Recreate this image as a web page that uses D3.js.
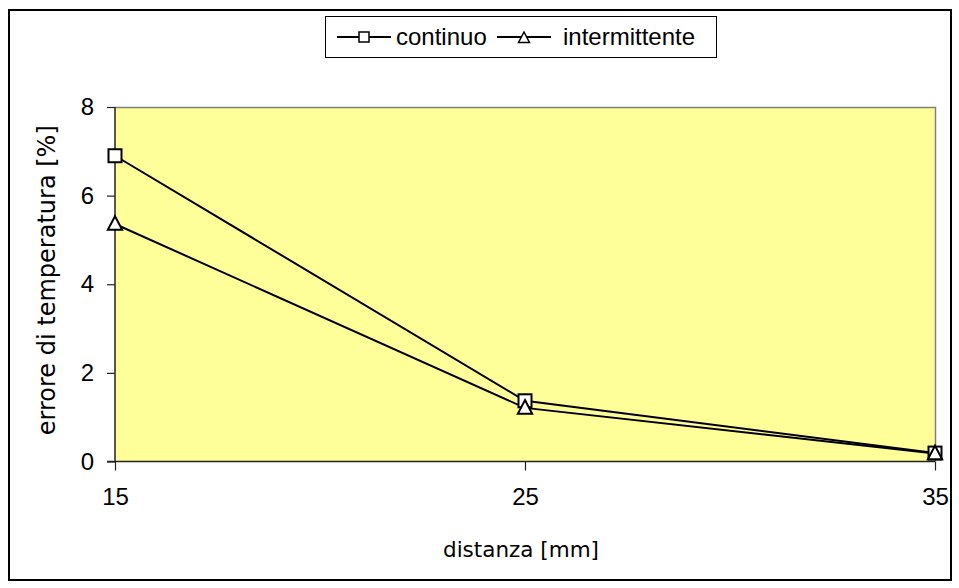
<!DOCTYPE html>
<html>
<head>
<meta charset="utf-8">
<script src="https://cdn.jsdelivr.net/npm/d3@7"></script>
<style>
  html, body { margin: 0; padding: 0; background: #fff; }
  svg { display: block; }
</style>
</head>
<body>
<svg id="chart" width="959" height="588"></svg>
<script>
// distance from the source [mm]
const distances = [15, 25, 35];
// temperature error [%] for each measuring mode
const continuo = [6.9, 1.37, 0.19];
const intermittente = [5.36, 1.21, 0.18];
const seriesNames = ["continuo", "intermittente"];
const yTicks = [0, 2, 4, 6, 8];
const xTicks = [15, 25, 35];

const svg = d3.select("#chart");
const plot = { left: 115, top: 107, right: 935, bottom: 461.5 };

// outer frame
svg.append("rect")
  .attr("x", 9).attr("y", 10).attr("width", 942).attr("height", 570)
  .attr("fill", "#fff").attr("stroke", "#000").attr("stroke-width", 2);

const x = d3.scaleLinear().domain([15, 35]).range([plot.left, plot.right]);
const y = d3.scaleLinear().domain([0, 8]).range([plot.bottom, plot.top]);

// plot background
svg.append("rect")
  .attr("x", plot.left).attr("y", plot.top)
  .attr("width", plot.right - plot.left).attr("height", plot.bottom - plot.top)
  .attr("fill", "#FFFF99");
// top and right edges of the plot area
svg.append("path")
  .attr("d", `M${plot.left},${plot.top + 0.5}H${plot.right + 0.5}V${plot.bottom}`)
  .attr("fill", "none").attr("stroke", "#808080").attr("stroke-width", 1.5);

// axes
const yAxis = d3.axisLeft(y).tickValues(yTicks).tickSize(8).tickPadding(13).tickFormat(d3.format("d"));
const gy = svg.append("g").attr("transform", `translate(${plot.left},0)`).call(yAxis);
const xAxis = d3.axisBottom(x).tickValues(xTicks).tickSize(9).tickPadding(17).tickFormat(d3.format("d"));
const gx = svg.append("g").attr("transform", `translate(0,${plot.bottom})`).call(xAxis);

[gx, gy].forEach(g => {
  g.select(".domain").attr("stroke", "#222").attr("stroke-width", 1.5);
  g.selectAll(".tick line").attr("stroke", "#222").attr("stroke-width", 1.2);
  g.selectAll(".tick text")
    .attr("fill", "#000")
    .style("font-family", "'Liberation Sans', Arial, sans-serif")
    .style("font-size", "24px");
});
gy.select(".domain").attr("d", `M0,${plot.top}V${plot.bottom}`);
gx.select(".domain").attr("d", `M${plot.left - 8},0H${plot.right}`);

// axis titles
svg.append("text")
  .attr("x", 521).attr("y", 557)
  .attr("text-anchor", "middle")
  .style("font-family", "'DejaVu Sans', Verdana, sans-serif")
  .style("font-size", "21.5px")
  .text("distanza [mm]");
svg.append("text")
  .attr("transform", `translate(55,${(plot.top + plot.bottom) / 2 - 4}) rotate(-90)`)
  .attr("text-anchor", "middle")
  .style("font-family", "'DejaVu Sans', Verdana, sans-serif")
  .style("font-size", "24px")
  .text("errore di temperatura [%]");

// lines and markers
const line = d3.line().x(d => x(d[0])).y(d => y(d[1]));
const data = [continuo, intermittente].map(vals => distances.map((d, i) => [d, vals[i]]));

data.forEach(pts => {
  svg.append("path").datum(pts).attr("d", line)
    .attr("fill", "none").attr("stroke", "#000").attr("stroke-width", 2);
});

const sq = 13;
const triPath = (cx, cy, s) => `M${cx},${cy - s * 0.6}L${cx + s * 0.55},${cy + s * 0.45}L${cx - s * 0.55},${cy + s * 0.45}Z`;

svg.append("g").selectAll("rect").data(data[0]).join("rect")
  .attr("x", d => x(d[0]) - sq / 2).attr("y", d => y(d[1]) - sq / 2)
  .attr("width", sq).attr("height", sq)
  .attr("fill", "#fff").attr("stroke", "#000").attr("stroke-width", 2);
svg.append("g").selectAll("path").data(data[1]).join("path")
  .attr("d", d => triPath(x(d[0]), y(d[1]), 13))
  .attr("fill", "#fff").attr("stroke", "#000").attr("stroke-width", 2);

// legend
const lg = svg.append("g");
lg.append("rect").attr("x", 325.5).attr("y", 16.5).attr("width", 391).attr("height", 41)
  .attr("fill", "#fff").attr("stroke", "#000").attr("stroke-width", 1);
const legendItems = [
  { name: seriesNames[0], x0: 337, tx: 396, marker: "square" },
  { name: seriesNames[1], x0: 497, tx: 563, marker: "triangle" }
];
const ly = 37;
legendItems.forEach(it => {
  lg.append("line").attr("x1", it.x0).attr("x2", it.x0 + 54).attr("y1", ly).attr("y2", ly)
    .attr("stroke", "#000").attr("stroke-width", 2);
  const cx = it.x0 + 27;
  if (it.marker === "square") {
    lg.append("rect").attr("x", cx - 5).attr("y", ly - 5).attr("width", 10).attr("height", 10)
      .attr("fill", "#fff").attr("stroke", "#000").attr("stroke-width", 1.5);
  } else {
    lg.append("path").attr("d", triPath(cx, ly + 1, 10))
      .attr("fill", "#fff").attr("stroke", "#000").attr("stroke-width", 1.5);
  }
  lg.append("text").attr("x", it.tx).attr("y", ly + 8)
    .style("font-family", "'Liberation Sans', Arial, sans-serif")
    .style("font-size", "24px")
    .text(it.name);
});
</script>
</body>
</html>
